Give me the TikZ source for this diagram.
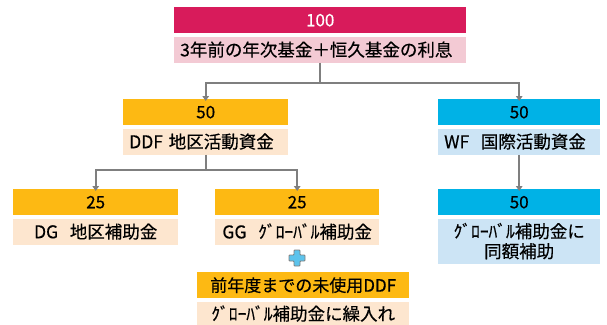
\documentclass[tikz,border=0pt]{standalone}
\usepackage{fontspec}
\setmainfont{Noto Sans CJK JP}[FakeBold=0.4]
\usetikzlibrary{positioning,arrows.meta}
\definecolor{crimson}{HTML}{D81B5B}
\definecolor{pinklab}{HTML}{F3CAD4}
\definecolor{ddforange}{HTML}{FDB913}
\definecolor{peach}{HTML}{FDE6CF}
\definecolor{wfcyan}{HTML}{00B2E6}
\definecolor{wfblue}{HTML}{CCE4F5}
\definecolor{linegray}{HTML}{7F7F7F}
\definecolor{plusblue}{HTML}{5CC3EC}

\begin{document}
\begin{tikzpicture}[x=1pt,y=-1pt,
    head/.style={rectangle, inner sep=0pt, minimum height=26pt, anchor=north west,
      font=\fontsize{17}{18}\selectfont},
    lab/.style={rectangle, inner xsep=6pt, inner ysep=0pt, minimum height=26pt,
      font=\fontsize{17.5}{20}\selectfont},
    conn/.style={draw=linegray, line width=1.6pt, -{Triangle[length=5pt,width=6.5pt]}}]
    \useasboundingbox (0,0) rectangle (607,324);

    % Top: 100
    \node[head, fill=crimson, text=white, minimum width=292pt] (topH) at (174,7) {100};
    \node[lab, fill=pinklab, text width=280pt, align=left, below=3pt of topH] (topL) {3年前の年次基金＋恒久基金の利息};

    % DDF
    \node[head, fill=ddforange, minimum width=165pt] (ddfH) at (123,99) {50};
    \node[lab, fill=peach, text width=153pt, align=left, below=3pt of ddfH] (ddfL) {DDF 地区活動資金};

    % WF
    \node[head, fill=wfcyan, minimum width=162pt] (wfH) at (438,99) {50};
    \node[lab, fill=wfblue, text width=150pt, align=left, below=3pt of wfH] (wfL) {WF\ \ 国際活動資金};

    % DG
    \node[head, fill=ddforange, minimum width=165pt] (dgH) at (13,189) {25};
    \node[lab, fill=peach, text width=153pt, align=center, below=3pt of dgH] (dgL) {DG\ \ 地区補助金};

    % GG
    \node[head, fill=ddforange, minimum width=164pt] (ggH) at (215,189) {25};
    \node[lab, fill=peach, text width=152pt, align=center, below=3pt of ggH] (ggL) {GG\ \ ｸﾞﾛｰﾊﾞﾙ補助金};

    % unused DDF
    \node[head, fill=ddforange, minimum width=212pt] (unH) at (197,272) {前年度までの未使用DDF};
    \node[lab, fill=peach, text width=200pt, align=center, below=3pt of unH, minimum height=24pt] (unL) {ｸﾞﾛｰﾊﾞﾙ補助金に繰入れ};

    % WF matching
    \node[head, fill=wfcyan, minimum width=162pt] (wf2H) at (438,189) {50};
    \node[lab, fill=wfblue, text width=150pt, align=center, below=3pt of wf2H, minimum height=45pt] (wf2L) {ｸﾞﾛｰﾊﾞﾙ補助金に\\同額補助};

    % plus sign
    \draw[fill=plusblue, draw=linegray, line width=0.8pt, rounded corners=0.8pt]
      (294,250) -- (300,250) -- (300,255) -- (305,255) -- (305,261) -- (300,261)
      -- (300,266) -- (294,266) -- (294,261) -- (289,261) -- (289,255) -- (294,255) -- cycle;

    % Connectors
    \draw[conn] (topL.south) -- ++(0,20) -| ([yshift=-2pt]ddfH.north);
    \draw[conn] (topL.south) -- ++(0,20) -| ([yshift=-2pt]wfH.north);
    \draw[conn] (ddfL.south) -- ++(0,15) -| ([yshift=-2pt]dgH.north);
    \draw[conn] (ddfL.south) -- ++(0,15) -| ([yshift=-2pt]ggH.north);
    \draw[conn] (wfL.south) -- ([yshift=-2pt]wf2H.north);
\end{tikzpicture}
\end{document}
